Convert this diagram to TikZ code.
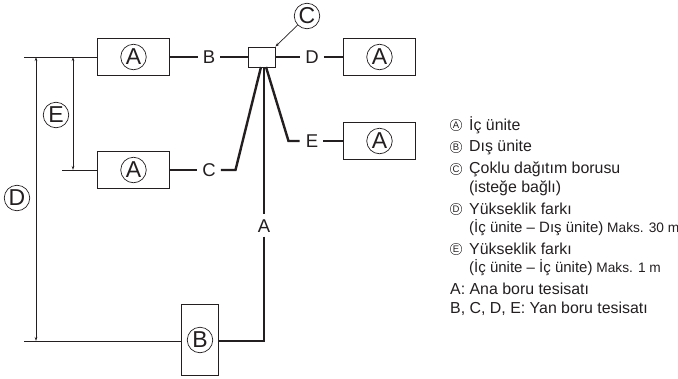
\documentclass[tikz,border=0pt]{standalone}
\usepackage{fontspec}
\setmainfont{Liberation Sans}
\definecolor{ink}{HTML}{231F20}
\usetikzlibrary{arrows.meta}
\newcommand{\maxnote}[1]{{\fontsize{13.7}{13.7}\selectfont\ #1}}
\tikzset{
  unit/.style={draw=ink,line width=0.9pt,fill=white,inner sep=0pt,minimum width=71.5pt,minimum height=37.5pt},
  circ/.style={draw=ink,line width=0.7pt,circle,inner sep=0pt,minimum size=25.5pt,font=\fontsize{23}{23}\selectfont,text=ink},
  lab/.style={inner sep=0pt,font=\fontsize{18.5}{18.5}\selectfont,text=ink},
  pipe/.style={draw=ink,line width=2.4pt},
  ref/.style={draw=ink,line width=0.7pt},
  dim/.style={draw=ink,line width=0.6pt,{Stealth[length=4pt,width=2.5pt]}-{Stealth[length=4pt,width=2.5pt]}},
  leg/.style={anchor=west,inner sep=0pt,font=\fontsize{15.9}{15.9}\selectfont,text=ink},
  legb/.style={leg,font=\fontsize{15}{15}\selectfont},
  mini/.style={draw=ink,line width=0.4pt,circle,inner sep=0pt,minimum size=11.5pt,font=\fontsize{9.5}{9.5}\selectfont,text=ink},
}
\begin{document}
\begin{tikzpicture}[x=1pt,y=-1pt]
\useasboundingbox (0,0) rectangle (678,378);
\node[unit] (a1) at (133.5,57) {};
\node[unit] (a2) at (133.5,170) {};
\node[unit] (a3) at (379.5,57) {};
\node[unit] (a4) at (379.5,141) {};
\node[unit,minimum width=37.5pt,minimum height=71.5pt] (b) at (200,340) {};
\node[draw=ink,line width=0.9pt,fill=white,minimum width=27pt,minimum height=20pt,inner sep=0pt] (hub) at (261.5,57) {};
\node[circ] at (133.5,57) {A};
\node[circ] at (133.5,170) {A};
\node[circ] at (379.5,57) {A};
\node[circ] at (379.5,141) {A};
\node[circ] (cb) at (200,340) {B};
\node[circ] (cc) at (307,16) {C};
\node[circ] (cd) at (17,198) {D};
\node[circ] (ce) at (56,115) {E};
\node[lab] (lb) at (209,57) {B};
\node[lab] (lc) at (209,170) {C};
\node[lab] (ld) at (312,57) {D};
\node[lab] (le) at (312,141) {E};
\node[lab] (la) at (264,226) {A};
\coordinate (tl) at (24,57);
\coordinate (ml) at (62,170);
\coordinate (bl) at (24,341);
\coordinate (d1) at (36,57);
\coordinate (d2) at (36,341);
\coordinate (e1) at (73,57);
\coordinate (e2) at (73,170);
\coordinate (kc) at (235.5,170);
\coordinate (ke) at (288.5,141);
\coordinate (ka) at (264,341);
\coordinate (hc) at (261,67);
\coordinate (he) at (266,67);
\coordinate (ha) at (264,67);
\draw[ref] (tl) -- (a1.west);
\draw[ref] (ml) -- (a2.west);
\draw[ref] (bl) -- (b.west |- bl);
\draw[dim] (d1) -- (d2);
\draw[dim] (e1) -- (e2);
\draw[pipe] (a1.east) -- ([xshift=-5pt]lb.west);
\draw[pipe] ([xshift=5pt]lb.east) -- (hub.west);
\draw[pipe] (a2.east) -- ([xshift=-5pt]lc.west);
\draw[pipe] ([xshift=5pt]lc.east) -- (kc) -- (hc);
\draw[pipe] (hub.east) -- ([xshift=-5pt]ld.west);
\draw[pipe] ([xshift=5pt]ld.east) -- (a3.west);
\draw[pipe] (he) -- (ke) -- ([xshift=-6pt]le.west);
\draw[pipe] ([xshift=5pt]le.east) -- (a4.west);
\draw[pipe] (ha) -- ([yshift=5pt]la.north);
\draw[pipe] ([yshift=-4pt]la.south) -- (ka) -- (b.east |- ka);
\draw[ref,-{Stealth[length=4pt,width=3pt]}] (cc) -- (hub.north east);
\node[mini] (m1) at (456,125) {A};
\node[leg] (t1) at (469,125) {İç ünite};
\node[mini] (m2) at (456,147) {B};
\node[leg] (t2) at (469,147) {Dış ünite};
\node[mini] (m3) at (456,169) {C};
\node[leg] (t3) at (469,169) {Çoklu dağıtım borusu};
\node[leg] (t4) at (469,188) {(isteğe bağlı)};
\node[mini] (m4) at (456,209) {D};
\node[leg] (t5) at (469,209) {Yükseklik farkı};
\node[legb] (t6) at (469,228) {(İç ünite – Dış ünite)\maxnote{Maks. 30 m}};
\node[mini] (m5) at (456,249) {E};
\node[leg] (t7) at (469,249) {Yükseklik farkı};
\node[legb] (t8) at (469,268) {(İç ünite – İç ünite)\maxnote{Maks. 1 m}};
\node[leg] (t9) at (450,289) {A: Ana boru tesisatı};
\node[leg] (t10) at (450,309) {B, C, D, E: Yan boru tesisatı};
\end{tikzpicture}
\end{document}
